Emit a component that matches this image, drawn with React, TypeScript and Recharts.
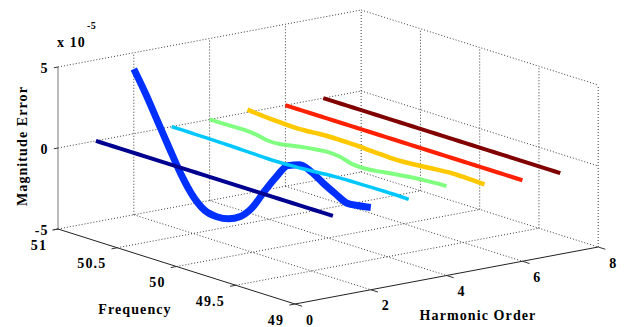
import React from "react";
import { LineChart, Line, XAxis, YAxis } from "recharts";

const W = 631;
const H = 327;

// frequency samples (Hz) along each harmonic trace
const FREQ = [51, 50.9, 50.8, 50.7, 50.6, 50.5, 50.4, 50.3, 50.2, 50.1, 50, 49.9, 49.8, 49.7, 49.6, 49.5, 49.4, 49.3, 49.2, 49.1, 49];
const HARMONIC_ORDER = [1, 2, 3, 4, 5, 6, 7];

// magnitude error, units of 1e-5
const ERR_H1 = [0, 0, 0, 0, 0, 0, 0, 0, 0, 0, 0, 0, 0, 0, 0, 0, 0, 0, 0, 0, 0];
const ERR_H2 = [4.0, 2.7, 1.25, -0.2, -1.6, -2.7, -3.35, -3.5, -3.4, -3.02, -2.25, -1.03, 0.1, 1.04, 1.33, 1.11, 0.64, 0.24, -0.12, -0.05, 0.08];
const ERR_H3 = [0, 0, -0.01, -0.02, -0.03, -0.04, -0.06, -0.08, -0.1, -0.1, -0.08, -0.04, 0.01, 0.07, 0.11, 0.13, 0.14, 0.15, 0.16, 0.16, 0.14];
const ERR_H4 = [0.01, 0.01, 0.02, 0.04, -0.03, -0.17, -0.14, 0, 0.13, 0.23, 0.3, 0.25, 0.04, 0, 0.07, 0.18, 0.28, 0.37, 0.44, 0.49, 0.52];
const ERR_H5 = [0.17, 0.1, 0.05, 0.01, -0.02, 0.01, 0.07, 0.1, 0.1, 0.09, 0.05, 0.02, -0.01, -0.01, 0.04, 0.1, 0.17, 0.23, 0.23, 0.21, 0.19];
const ERR_H6 = [0, 0, 0, 0, 0, 0, 0, 0, 0, 0, 0, 0, 0, 0, 0, 0, 0, 0, 0, 0, 0];
const ERR_H7 = [0, 0, 0, 0, 0, 0, 0, 0, 0, 0, 0, 0, 0, 0, 0, 0, 0, 0, 0, 0, 0];
const SERIES = [ERR_H1, ERR_H2, ERR_H3, ERR_H4, ERR_H5, ERR_H6, ERR_H7];

const COLORS = ["#000090", "#0030ff", "#00c8ff", "#80ff80", "#ffc800", "#ff2000", "#800000"];
const WIDTHS = [4, 7, 3.5, 4, 4.5, 4, 4];
const DRAW_ORDER = [1, 0, 2, 3, 4, 5, 6];

const F_TICKS = [51, 50.5, 50, 49.5, 49];
const H_TICKS = [0, 2, 4, 6, 8];
const Z_TICKS = [-5, 0, 5];

// fixed view of the 3-D box (frequency, harmonic, error) onto the page
const proj = (f: number, h: number, z: number) => ({
  x: 58 + (51 - f) * 118.5 + h * 37.9,
  y: 229 + (51 - f) * 37.5 - h * 7.125 - (z + 5) * 16.2,
});

type P3 = [number, number, number];
const seg = (a: P3, b: P3) => [proj(...a), proj(...b)];

const grid: { x: number; y: number }[][] = [];
// back wall at 51 Hz
Z_TICKS.forEach((z) => grid.push(seg([51, 0, z], [51, 8, z])));
H_TICKS.slice(1).forEach((h) => grid.push(seg([51, h, -5], [51, h, 5])));
// back wall at harmonic 8
Z_TICKS.forEach((z) => grid.push(seg([51, 8, z], [49, 8, z])));
F_TICKS.slice(1).forEach((f) => grid.push(seg([f, 8, -5], [f, 8, 5])));
// floor
F_TICKS.slice(1, -1).forEach((f) => grid.push(seg([f, 0, -5], [f, 8, -5])));
H_TICKS.slice(1, -1).forEach((h) => grid.push(seg([51, h, -5], [49, h, -5])));

const axes = [
  { pts: seg([51, 0, -5], [51, 0, 5]), color: "#7a7a7a" },
  { pts: seg([51, 0, -5], [49, 0, -5]), color: "#222" },
  { pts: seg([49, 0, -5], [49, 8, -5]), color: "#222" },
];
const ticks = [
  ...Z_TICKS.map((z) => seg([51, 0, z], [51, -0.11, z])),
  ...F_TICKS.map((f) => seg([f, 0, -5], [f, -0.15, -5])),
  ...H_TICKS.map((h) => seg([49, h, -5], [48.94, h, -5])),
];

const traces = SERIES.map((vals, i) =>
  FREQ.map((f, j) => proj(f, HARMONIC_ORDER[i], vals[j]))
);

const font = {
  fontFamily: "'Liberation Serif', 'Times New Roman', serif",
  fontWeight: 700,
  fontSize: 14,
  letterSpacing: 1.1,
  fill: "#000",
} as const;

export default function App() {
  return (
    <div style={{ position: "relative", width: W, height: H, background: "#fff" }}>
      <style>{"body{margin:0}"}</style>
      <LineChart width={W} height={H} margin={{ top: 0, right: 0, bottom: 0, left: 0 }}>
        <XAxis type="number" dataKey="x" domain={[0, W]} hide allowDataOverflow />
        <YAxis type="number" domain={[0, H]} reversed hide allowDataOverflow />
        {grid.map((d, i) => (
          <Line key={"g" + i} data={d} dataKey="y" type="linear" stroke="#3c3c3c"
            strokeWidth={1} strokeDasharray="1 2" dot={false} activeDot={false} isAnimationActive={false} />
        ))}
        {DRAW_ORDER.map((i) => (
          <Line key={"s" + i} data={traces[i]} dataKey="y" type="monotone" stroke={COLORS[i]}
            strokeWidth={WIDTHS[i]} dot={false} activeDot={false} isAnimationActive={false} />
        ))}
        {axes.map((a, i) => (
          <Line key={"a" + i} data={a.pts} dataKey="y" type="linear" stroke={a.color}
            strokeWidth={1} dot={false} activeDot={false} isAnimationActive={false} />
        ))}
        {ticks.map((d, i) => (
          <Line key={"t" + i} data={d} dataKey="y" type="linear" stroke="#333"
            strokeWidth={1} dot={false} activeDot={false} isAnimationActive={false} />
        ))}
      </LineChart>
      <svg width={W} height={H} style={{ position: "absolute", left: 0, top: 0, pointerEvents: "none" }}>
        {Z_TICKS.map((z) => {
          const p = proj(51, 0, z);
          return <text key={z} x={p.x - 9.5} y={p.y + 5.5} textAnchor="end" {...font}>{String(z)}</text>;
        })}
        {F_TICKS.map((f) => {
          const p = proj(f, 0, -5);
          return <text key={f} x={p.x - 11} y={p.y + 20.5} textAnchor="end" {...font}>{String(f)}</text>;
        })}
        {H_TICKS.map((h) => {
          const p = proj(49, h, -5);
          return <text key={h} x={p.x + 15} y={p.y + 20.5} textAnchor="middle" {...font}>{String(h)}</text>;
        })}
        <text x={57} y={47} {...font}>x 10</text>
        <text x={87} y={28.5} {...font} fontSize={10} letterSpacing={0.5}>-5</text>
        <text x={135} y={314} textAnchor="middle" {...font}>Frequency</text>
        <text x={478} y={320} textAnchor="middle" {...font}>Harmonic Order</text>
        <text x={27} y={146} textAnchor="middle" transform="rotate(-90 27 146)" {...font}>Magnitude Error</text>
      </svg>
    </div>
  );
}
